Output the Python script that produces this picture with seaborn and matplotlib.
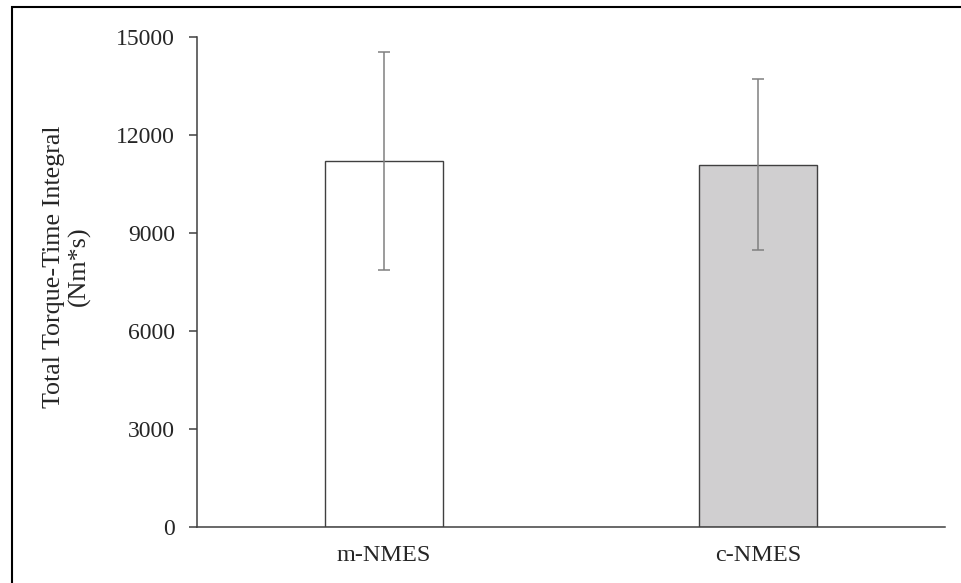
import matplotlib
matplotlib.use("Agg")
import matplotlib.pyplot as plt
import matplotlib.patches as mpatches
import pandas as pd
import seaborn as sns

# values
groups = ["m-NMES", "c-NMES"]
means = [11200, 11090]
sds = [3340, 2610]
bar_colors = ["#ffffff", "#d0cfd0"]

df = pd.DataFrame({"group": groups, "ttI": means})

sns.set_style("white")
plt.rcParams["font.family"] = ["Liberation Serif", "DejaVu Serif"]

fig = plt.figure(figsize=(9.62, 5.83), dpi=100)
ax = fig.add_axes([197 / 962, 1 - 526.7 / 583, (945 - 197) / 962, (526.7 - 37) / 583])

sns.barplot(data=df, x="group", y="ttI", hue="group", palette=bar_colors,
            edgecolor="#404040", linewidth=1.0, width=0.313, errorbar=None,
            legend=False, ax=ax)
ax.errorbar(range(len(groups)), means, yerr=sds, fmt="none", ecolor="#808080",
            elinewidth=1.1, capsize=4.3, capthick=1.1)

ax.set_xlim(-0.5, 1.5)
ax.set_ylim(0, 15000)
ax.set_yticks(range(0, 15001, 3000))
ax.set_xlabel("")
ax.set_ylabel("")
sns.despine(ax=ax)
for s in ["left", "bottom"]:
    ax.spines[s].set_color("#404040")
    ax.spines[s].set_linewidth(1.1)
ax.tick_params(axis="y", length=6, width=1.1, color="#404040", pad=10,
               labelsize=17, left=True)
ax.tick_params(axis="x", length=0, pad=13, labelsize=17.5)

fig.text(67 / 962, 1 - 266.5 / 583, "Total Torque-Time Integral\n(Nm*s)",
         rotation=90, ha="center", va="center", fontsize=18.7, linespacing=1.15)

# frame around the figure
fig.patches.append(mpatches.Rectangle((12 / 962, -0.1), 1.2, 1.1 - 7 / 583,
                                      transform=fig.transFigure, fill=False,
                                      edgecolor="black", linewidth=1.5))

fig.savefig("out.png", dpi=100)
